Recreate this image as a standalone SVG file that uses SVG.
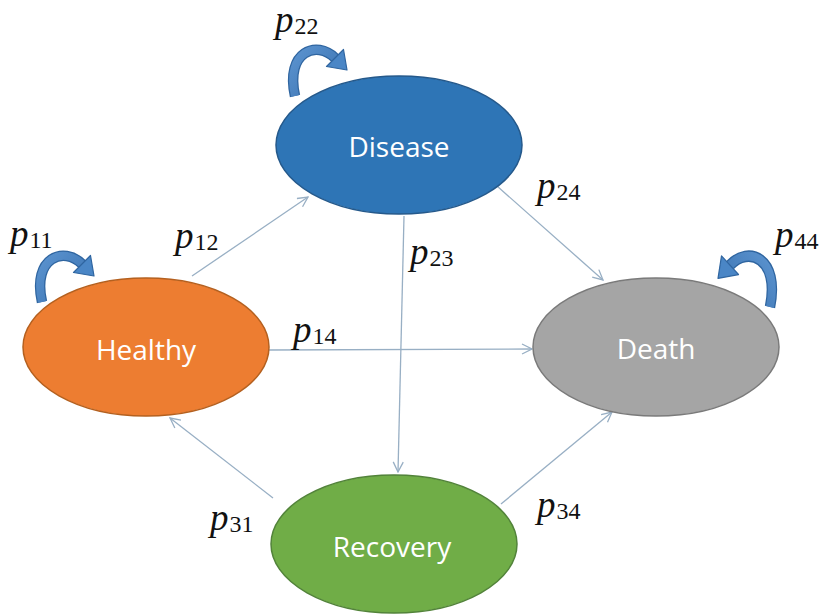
<svg xmlns="http://www.w3.org/2000/svg" width="823" height="616" viewBox="0 0 823 616">
  <defs>
    <marker id="open" viewBox="0 0 12 12" refX="11" refY="6" markerWidth="12" markerHeight="12" markerUnits="userSpaceOnUse" orient="auto">
      <path d="M1 1 L11 6 L1 11" fill="none" stroke="#98AFC4" stroke-width="1.3"/>
    </marker>
    <linearGradient id="loopGrad" x1="0" y1="0" x2="1" y2="1">
      <stop offset="0" stop-color="#5B93CF"/>
      <stop offset="1" stop-color="#3A72B0"/>
    </linearGradient>
    <!-- curved self-transition arrow, drawn from its tail at the origin -->
    <g id="loop">
      <path d="M0 0 C -10 -45 22 -56 40 -38" fill="none" stroke="#2F65A0" stroke-width="10.5"/>
      <path d="M0 0 C -10 -45 22 -56 40 -38" fill="none" stroke="url(#loopGrad)" stroke-width="8"/>
      <polygon points="48.5,-46.5 52,-26 31.5,-29.5" fill="#4A86C6" stroke="#2F65A0" stroke-width="1.2" stroke-linejoin="round"/>
    </g>
  </defs>
  <style>
    .node text { font-family: "Open Sans", "Liberation Sans", sans-serif; font-size: 28px; fill: #ffffff; text-anchor: middle; dominant-baseline: central; }
    .edge { stroke: #98AFC4; stroke-width: 1.3; fill: none; marker-end: url(#open); }
    .lbl { font-family: "Liberation Serif", "DejaVu Serif", serif; fill: #111111; }
    .lbl .p { font-style: italic; font-size: 37px; }
    .lbl .s { font-size: 24px; }
  </style>
  <rect width="823" height="616" fill="#ffffff"/>

  <g id="connectors">
    <line class="edge" x1="192" y1="276" x2="308" y2="197"/>
    <line class="edge" x1="497" y1="186" x2="603" y2="280"/>
    <line class="edge" x1="404" y1="216" x2="398" y2="472"/>
    <line class="edge" x1="269" y1="350" x2="532" y2="349"/>
    <line class="edge" x1="273" y1="498" x2="170" y2="418"/>
    <line class="edge" x1="501" y1="504" x2="612" y2="412"/>
    <use href="#loop" transform="translate(295,96)"/>
    <use href="#loop" transform="translate(42,302)"/>
    <use href="#loop" transform="translate(770,307) scale(-1,1.1)"/>
  </g>

  <g id="disease" class="node">
    <ellipse cx="399" cy="145" rx="123" ry="69" fill="#2E75B6" stroke="#25598B" stroke-width="1.5"/>
    <text x="399" y="146">Disease</text>
  </g>
  <g id="healthy" class="node">
    <ellipse cx="146" cy="347" rx="123" ry="69" fill="#ED7D31" stroke="#B4601F" stroke-width="1.5"/>
    <text x="146" y="349">Healthy</text>
  </g>
  <g id="death" class="node">
    <ellipse cx="656" cy="347" rx="123" ry="69" fill="#A5A5A5" stroke="#7A7A7A" stroke-width="1.5"/>
    <text x="656" y="348">Death</text>
  </g>
  <g id="recovery" class="node">
    <ellipse cx="394" cy="544" rx="123" ry="69" fill="#70AD47" stroke="#52833A" stroke-width="1.5"/>
    <text x="392" y="546">Recovery</text>
  </g>

  <g id="labels">
    <text class="lbl" x="275" y="32"><tspan class="p">p</tspan><tspan class="s" dx="1" dy="2">22</tspan></text>
    <text class="lbl" x="10" y="246"><tspan class="p">p</tspan><tspan class="s" dx="1" dy="2">11</tspan></text>
    <text class="lbl" x="175" y="248"><tspan class="p">p</tspan><tspan class="s" dx="1" dy="2">12</tspan></text>
    <text class="lbl" x="537" y="198"><tspan class="p">p</tspan><tspan class="s" dx="1" dy="2">24</tspan></text>
    <text class="lbl" x="410" y="264"><tspan class="p">p</tspan><tspan class="s" dx="1" dy="2">23</tspan></text>
    <text class="lbl" x="775" y="247"><tspan class="p">p</tspan><tspan class="s" dx="1" dy="2">44</tspan></text>
    <text class="lbl" x="293" y="342"><tspan class="p">p</tspan><tspan class="s" dx="1" dy="2">14</tspan></text>
    <text class="lbl" x="210" y="530"><tspan class="p">p</tspan><tspan class="s" dx="1" dy="2">31</tspan></text>
    <text class="lbl" x="537" y="517"><tspan class="p">p</tspan><tspan class="s" dx="1" dy="2">34</tspan></text>
  </g>
</svg>
